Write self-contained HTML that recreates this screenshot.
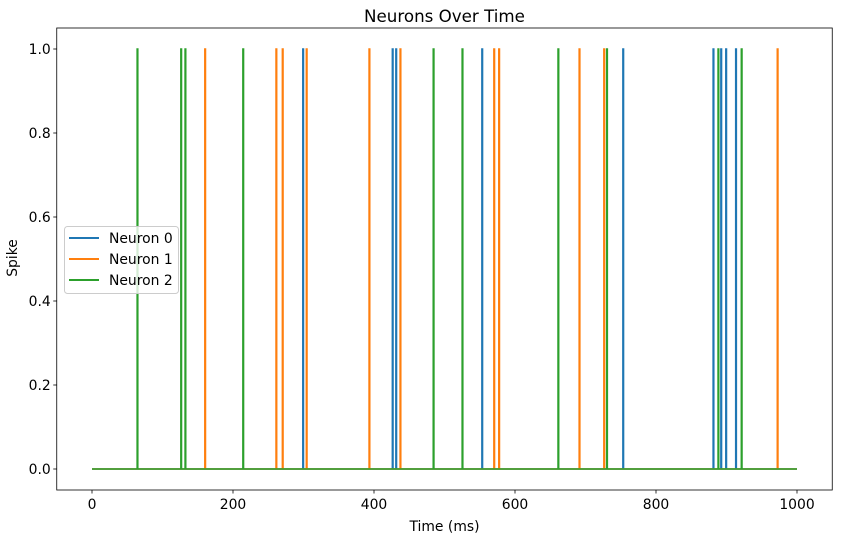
<!DOCTYPE html>
<html><head><meta charset="utf-8"><style>
body{margin:0;background:#fff;}
svg text{font-family:"DejaVu Sans","Liberation Sans",sans-serif;fill:#000;}
</style></head><body>
<svg id="chart" width="861" height="534" xmlns="http://www.w3.org/2000/svg">
<rect width="861" height="534" fill="#fff"/>
<text x="444.5" y="22" font-size="16.7" text-anchor="middle">Neurons Over Time</text>
<g id="plot"></g>
<g id="axes"></g>
<text x="444.5" y="531" font-size="13.9" text-anchor="middle">Time (ms)</text>
<text transform="translate(17,258) rotate(-90)" font-size="13.9" text-anchor="middle">Spike</text>
<g>
<rect x="64.5" y="226.5" width="114" height="67" rx="3" fill="#fff" fill-opacity="0.8" stroke="#ccc"/>
<line x1="69" x2="99" y1="238" y2="238" stroke="#1f77b4" stroke-width="2"/>
<text x="109" y="243" font-size="13.9">Neuron 0</text>
<line x1="69" x2="99" y1="259" y2="259" stroke="#ff7f0e" stroke-width="2"/>
<text x="109" y="264" font-size="13.9">Neuron 1</text>
<line x1="69" x2="99" y1="280" y2="280" stroke="#2ca02c" stroke-width="2"/>
<text x="109" y="285" font-size="13.9">Neuron 2</text>
</g>
</svg>
<script>
const seriesNames = ["Neuron 0","Neuron 1","Neuron 2"];
const seriesColors = ["#1f77b4","#ff7f0e","#2ca02c"];
const neuron0Spikes = [299,426,431,553,753,881,892,899,913];
const neuron1Spikes = [160,261,270,304,393,437,570,577,691,726,972];
const neuron2Spikes = [64,126,132,214,484,525,661,730,888,921];
const xTicks = [0,200,400,600,800,1000];
const yTicks = [0,0.2,0.4,0.6,0.8,1.0];
const tMax = 1000;

const L=56.75,R=832.25,T=28,B=490;
const xMin=-50,xMax=1050,yMin=-0.05,yMax=1.05;
const X=v=>L+(v-xMin)/(xMax-xMin)*(R-L);
const Y=v=>B-(v-yMin)/(yMax-yMin)*(B-T);
const NS="http://www.w3.org/2000/svg";
const plot=document.getElementById('plot'), axes=document.getElementById('axes');
function mk(tag,attrs,parent){const e=document.createElementNS(NS,tag);for(const k in attrs)e.setAttribute(k,attrs[k]);parent.appendChild(e);return e;}

[neuron0Spikes,neuron1Spikes,neuron2Spikes].forEach((sp,i)=>{
  let pts=[[0,0]];
  sp.slice().sort((a,b)=>a-b).forEach(t=>{pts.push([t,0],[t,1],[t+1,1],[t+1,0]);});
  pts.push([tMax,0]);
  const p=mk('polyline',{points:pts.map(q=>X(q[0]).toFixed(2)+','+Y(q[1]).toFixed(2)).join(' '),fill:'none',stroke:seriesColors[i],'stroke-width':1.5},plot);
  
  
});

mk('rect',{x:L,y:T,width:R-L,height:B-T,fill:'none',stroke:'#000','stroke-width':0.8},axes);
xTicks.forEach(v=>{
  mk('line',{x1:X(v),x2:X(v),y1:B,y2:B+3.5,stroke:'#000','stroke-width':0.8},axes);
  const t=mk('text',{x:X(v),y:B+19,'font-size':13.9,'text-anchor':'middle'},axes);
  t.textContent=String(v);
  
  
});
yTicks.forEach(v=>{
  mk('line',{x1:L-3.5,x2:L,y1:Y(v),y2:Y(v),stroke:'#000','stroke-width':0.8},axes);
  const t=mk('text',{x:L-6,y:Y(v)+5,'font-size':13.9,'text-anchor':'end'},axes);
  t.textContent=v.toFixed(1);
  
  
});
</script>
</body></html>
